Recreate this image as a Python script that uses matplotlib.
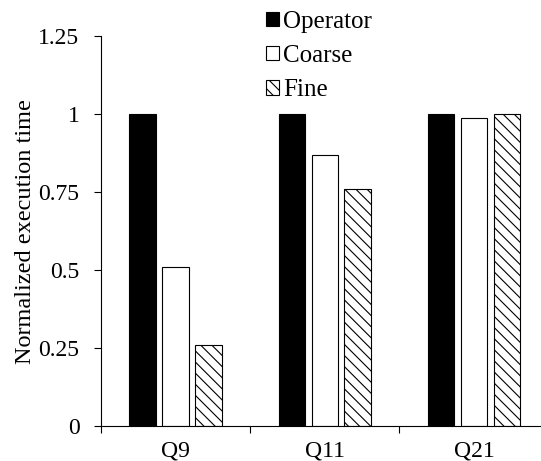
import matplotlib
matplotlib.use("Agg")
import matplotlib.pyplot as plt
import numpy as np
from matplotlib.ticker import FixedLocator, FixedFormatter

categories = ["Q9", "Q11", "Q21"]
series_names = ["Operator", "Coarse", "Fine"]
operator = [1.0, 1.0, 1.0]
coarse = [0.51, 0.87, 0.99]
fine = [0.26, 0.76, 1.0]
yticks = [0, 0.25, 0.5, 0.75, 1, 1.25]
ytick_labels = ["0", "0.25", "0.5", "0.75", "1", "1.25"]

plt.rcParams['font.family'] = ['Liberation Serif', 'DejaVu Serif']
plt.rcParams['hatch.linewidth'] = 0.8
plt.rcParams['hatch.color'] = 'black'

W, H = 541, 461
fig = plt.figure(figsize=(W / 100, H / 100), dpi=100)
left_px, right_px, bottom_px, top_px = 101, 548.6, 426.3, 36.5
ax = fig.add_axes([left_px / W, 1 - bottom_px / H, (right_px - left_px) / W, (bottom_px - top_px) / H])

x = np.arange(len(categories)) + 0.5
bw = 0.178
step = 0.221
styles = [dict(facecolor='black', edgecolor='black'),
          dict(facecolor='white', edgecolor='black'),
          dict(facecolor='white', edgecolor='black', hatch='\\\\\\')]
for i, (vals, name, st) in enumerate(zip([operator, coarse, fine], series_names, styles)):
    ax.bar(x + (i - 1) * step, vals, width=bw, linewidth=0.8, label=name, **st)

ax.set_xlim(0, 3)
ax.set_ylim(0, 1.25)
ax.set_yticks(yticks)
ax.set_yticklabels(ytick_labels)
ax.xaxis.set_major_locator(FixedLocator([0, 1, 2, 3]))
ax.xaxis.set_major_formatter(FixedFormatter(["", "", "", ""]))
ax.xaxis.set_minor_locator(FixedLocator(list(x)))
ax.xaxis.set_minor_formatter(FixedFormatter(categories))
ax.tick_params(axis='x', which='minor', length=0, labelsize=17, pad=10)
ax.tick_params(axis='x', which='major', length=5, width=0.8, direction='out')
ax.tick_params(axis='y', length=5, width=0.8, direction='out', labelsize=17, pad=10.5)
for s in ['top', 'right']:
    ax.spines[s].set_visible(False)
for s in ['left', 'bottom']:
    ax.spines[s].set_linewidth(0.8)
ax.set_ylabel("Normalized execution time", fontsize=17.5, labelpad=2)

leg = fig.legend(loc='upper left', bbox_to_anchor=(266 / W, 1 - 11 / H),
                 frameon=False, fontsize=18, handlelength=0.5, handleheight=0.5,
                 handletextpad=0.18, labelspacing=0.49, borderpad=0, borderaxespad=0)

fig.savefig("out.png", dpi=100)
